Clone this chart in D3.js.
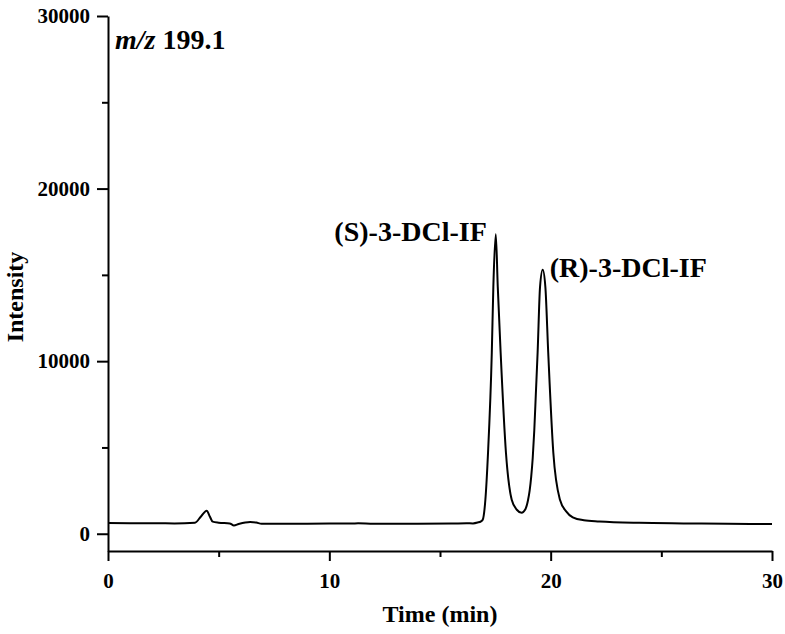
<!DOCTYPE html>
<html>
<head>
<meta charset="utf-8">
<script src="https://d3js.org/d3.v7.min.js"></script>
<style>
	body { margin: 0; background: #fff; }
	text { font-family: "Liberation Serif", "Times New Roman", serif; font-weight: bold; fill: #000; }
</style>
</head>
<body>
<div id="chart"></div>
<script>
// retention time (min) and intensity
const times = [0, 1, 2, 3, 3.93, 4.2, 4.46, 4.6, 4.73, 5.0, 5.5, 5.69, 5.9, 6.2, 6.42, 6.7, 6.94, 8, 10, 11, 11.3, 12, 14, 15.5, 16.2,
	16.49, 16.7, 16.85, 16.93, 17.05, 17.17, 17.34, 17.41, 17.52, 17.61, 17.74, 17.98, 18.24, 18.47, 18.69, 18.85, 18.98, 19.05, 19.12,
	19.19, 19.26, 19.33, 19.41, 19.52, 19.64, 19.76, 19.89, 20.12, 20.42, 20.7, 21.0, 21.5, 22.2, 24, 26, 28, 30];
const intensity = [620, 615, 610, 600, 640, 1000, 1330, 1000, 700, 640, 600, 480, 560, 650, 680, 650, 580, 580, 590, 590, 610, 580, 580, 590, 610,
	600, 650, 720, 811, 1969, 4691, 10483, 14305, 17350, 14305, 10483, 4691, 1969, 1390, 1216, 1400, 1969, 2500, 3300,
	4400, 6000, 8100, 10483, 14305, 15290, 14305, 10483, 4691, 1969, 1300, 950, 780, 710, 630, 600, 580, 560];

const xMajor = [0, 10, 20, 30];
const xMinor = [5, 15, 25];
const yMajor = [0, 10000, 20000, 30000];
const yMinor = [5000, 15000, 25000];

const peakNames = ["(S)-3-DCl-IF", "(R)-3-DCl-IF"];
const peakTimes = [17.52, 19.64];
const peakValues = [17350, 15290];

let width = 785, height = 634;
let svg = d3.select("#chart").append("svg")
	.attr("width", width)
	.attr("height", height);

let xScale = d3.scaleLinear().domain([0, 30]).range([108, 772]);
let yScale = d3.scaleLinear().domain([-1000, 30000]).range([551, 16]);

// minor ticks first, then the major axis on top
svg.append("g")
	.attr("transform", "translate(0,551)")
	.call(d3.axisBottom(xScale).tickValues(xMinor).tickSize(6).tickFormat(""))
	.call(g => g.select(".domain").remove());
svg.append("g")
	.attr("transform", "translate(108,0)")
	.call(d3.axisLeft(yScale).tickValues(yMinor).tickSize(6).tickFormat(""))
	.call(g => g.select(".domain").remove());

let xAxis = svg.append("g")
	.attr("transform", "translate(0,551)")
	.call(d3.axisBottom(xScale).tickValues(xMajor).tickSize(10).tickSizeOuter(0).tickPadding(12).tickFormat(d3.format("d")));
let yAxis = svg.append("g")
	.attr("transform", "translate(108,0)")
	.call(d3.axisLeft(yScale).tickValues(yMajor).tickSize(11).tickSizeOuter(0).tickPadding(7).tickFormat(d3.format("d")));

svg.selectAll(".tick line, .domain")
	.attr("stroke", "#000")
	.attr("stroke-width", 2);
[xAxis, yAxis].forEach(a => a.selectAll("text")
	.style("font-family", "'Liberation Serif', serif")
	.style("font-weight", "bold")
	.style("font-size", "21px")
	.attr("fill", "#000"));

// trace
let line = d3.line()
	.x((d, i) => xScale(times[i]))
	.y(d => yScale(d))
	.curve(d3.curveMonotoneX);

svg.append("path")
	.datum(intensity)
	.attr("d", line)
	.attr("fill", "none")
	.attr("stroke", "#000")
	.attr("stroke-width", 2)
	.attr("stroke-linejoin", "round");

// peak labels
svg.append("g").selectAll("text")
	.data(peakNames)
	.join("text")
	.text(d => d)
	.attr("x", (d, i) => i == 0 ? xScale(peakTimes[i]) - 9 : xScale(peakTimes[i]) + 7)
	.attr("y", (d, i) => yScale(peakValues[i]) + 7)
	.attr("text-anchor", (d, i) => i == 0 ? "end" : "start")
	.style("font-size", "28px");

// ion label
let ion = svg.append("text")
	.attr("x", 115)
	.attr("y", 49)
	.style("font-size", "28px");
ion.append("tspan").style("font-style", "italic").text("m/z");
ion.append("tspan").text(" 199.1");

// axis titles
svg.append("text")
	.text("Time (min)")
	.attr("x", 440)
	.attr("y", 622)
	.attr("text-anchor", "middle")
	.style("font-size", "24px");

svg.append("text")
	.text("Intensity")
	.attr("transform", "translate(23,297) rotate(-90)")
	.attr("text-anchor", "middle")
	.style("font-size", "24px");
</script>
</body>
</html>
